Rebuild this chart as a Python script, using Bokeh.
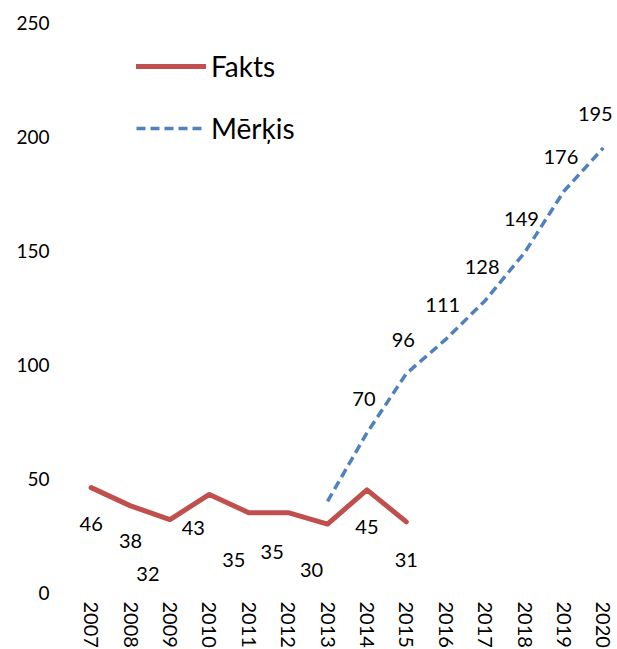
from bokeh.plotting import figure
from bokeh.models import ColumnDataSource, Range1d, FixedTicker, Legend, LegendItem
from bokeh.core.properties import value
from bokeh.embed import file_html
from bokeh.resources import INLINE

# ---- data ----
fakts_years = [2007, 2008, 2009, 2010, 2011, 2012, 2013, 2014, 2015]
fakts_values = [46, 38, 32, 43, 35, 35, 30, 45, 31]
merkis_years = [2013, 2014, 2015, 2016, 2017, 2018, 2019, 2020]
merkis_values = [40, 70, 96, 111, 128, 149, 176, 195]
merkis_labeled = [False, True, True, True, True, True, True, True]
year_ticks = list(range(2007, 2021))
y_ticks = [0, 50, 100, 150, 200, 250]

# label placement (screen px) – style, not data
fakts_dx = [0, 0, -22, -16, -15, -16, -16, 0, 0]
fakts_dy = [36, 35, 54, 34, 47, 39, 46, 37, 38]
merkis_dx = [-3, -3, -3, -3, -3, -3, -8]

FONT = value("Lato")
RED = "#C0504D"
BLUE = "#4F81BD"

p = figure(frame_width=546, frame_height=570, output_backend="svg", toolbar_location=None,
           x_range=Range1d(2006.45, 2020.31), y_range=Range1d(0, 250),
           min_border_left=69, min_border_right=0, min_border_top=22, min_border_bottom=10)
p.outline_line_color = None
p.xgrid.visible = False
p.ygrid.visible = False

for ax in (p.xaxis[0], p.yaxis[0]):
    ax.axis_line_color = None
    ax.major_tick_line_color = None
    ax.minor_tick_line_color = None
    ax.major_tick_out = 0
    ax.major_tick_in = 0
    ax.major_label_text_font = "Lato"
    ax.major_label_text_color = "#000000"

p.xaxis.major_label_text_font_size = "20px"
p.yaxis.major_label_text_font_size = "19px"
p.xaxis.ticker = FixedTicker(ticks=year_ticks)
p.xaxis.major_label_orientation = "vertical"
p.xaxis.major_label_standoff = 9
p.yaxis.ticker = FixedTicker(ticks=y_ticks)
p.yaxis.major_label_standoff = 20

fsrc = ColumnDataSource(dict(x=fakts_years, y=fakts_values,
                             t=[str(v) for v in fakts_values], dx=fakts_dx, dy=fakts_dy))
msrc = ColumnDataSource(dict(x=merkis_years, y=merkis_values))
mlab = ColumnDataSource(dict(
    x=[x for x, k in zip(merkis_years, merkis_labeled) if k],
    y=[v for v, k in zip(merkis_values, merkis_labeled) if k],
    t=[str(v) for v, k in zip(merkis_values, merkis_labeled) if k],
    dx=merkis_dx))

r_f = p.line("x", "y", source=fsrc, line_color=RED, line_width=5,
             line_cap="round", line_join="round")
r_m = p.line("x", "y", source=msrc, line_color=BLUE, line_width=3.5,
             line_dash="9 5", line_join="round")

p.text("x", "y", text="t", source=fsrc, x_offset="dx", y_offset="dy",
       text_align="center", text_baseline="middle", text_font=FONT,
       text_font_size="20px", text_color="#000000")
p.text("x", "y", text="t", source=mlab, x_offset="dx", y_offset=-34,
       text_align="center", text_baseline="middle", text_font=FONT,
       text_font_size="20px", text_color="#000000")

legend = Legend(items=[LegendItem(label="Fakts", renderers=[r_f]),
                       LegendItem(label="Mērķis", renderers=[r_m])],
                location=(67, 447), orientation="vertical",
                glyph_width=70, glyph_height=30, label_height=30, label_standoff=5,
                spacing=28, padding=0, margin=0,
                label_text_font="Lato", label_text_font_size="28px",
                label_text_color="#000000",
                border_line_color=None, background_fill_alpha=0)
p.add_layout(legend)

open("out.html", "w").write(file_html(p, INLINE))
